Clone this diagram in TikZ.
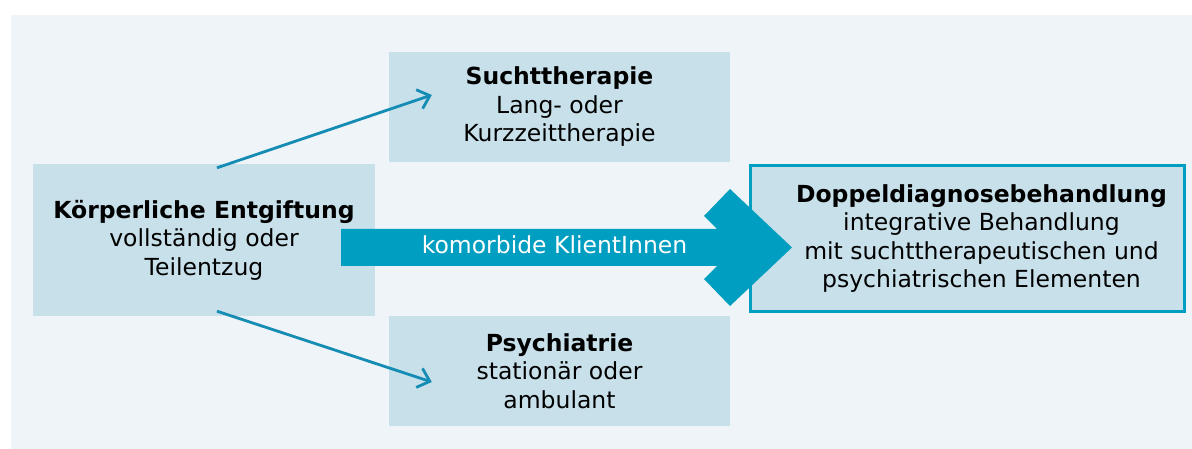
\documentclass[tikz,border=0pt]{standalone}
\usepackage{fontspec}
\setmainfont{DejaVu Sans}
\usetikzlibrary{arrows.meta,calc}

\definecolor{bgblue}{RGB}{239,244,248}
\definecolor{boxblue}{RGB}{200,224,234}
\definecolor{arrowteal}{RGB}{0,158,192}
\definecolor{linkblue}{RGB}{20,140,180}

\begin{document}
\begin{tikzpicture}
                    [x=1pt,y=-1pt,>={Straight Barb[length=11pt,width=20pt]},
                     txt/.style={align=center,font=\fontsize{23.5}{28.5}\selectfont},
                     box/.style={txt,fill=boxblue,inner sep=0pt},
                     link/.style={->,draw=linkblue,line width=2.8pt}]

                \useasboundingbox (0,0) rectangle (1192,449);
                \fill[bgblue] (11,15) rectangle (1192,449);

                \node[box,minimum width=342pt,minimum height=152pt] (entg) at (204,240)
                    {\textbf{Körperliche Entgiftung}\\vollständig oder\\Teilentzug};
                \node[box,minimum width=341pt,minimum height=110pt] (sucht) at (559.5,107)
                    {\textbf{Suchttherapie}\\Lang- oder\\Kurzzeittherapie};
                \node[box,minimum width=341pt,minimum height=110pt] (psych) at (559.5,371)
                    {\textbf{Psychiatrie}\\stationär oder\\ambulant};
                \node[box,draw=arrowteal,line width=3pt,minimum width=434pt,minimum height=146pt] (dd) at (967.5,238.5) {};
                \node[txt] (ddtext) at ($(dd.center)+(14,0)$)
                    {\textbf{Doppeldiagnosebehandlung}\\integrative Behandlung\\mit suchttherapeutischen und\\psychiatrischen Elementen};

                \draw[link] ($(entg.north)+(13,4)$) -- ($(sucht.west)+(43,-12)$);
                \draw[link] ($(entg.south)+(13,-5)$) -- ($(psych.west)+(43,11)$);

                \fill[arrowteal] (341,229) -- (717,229) -- (704,216) -- (730,189) -- (792,247.5)
                    -- (730,306) -- (704,279) -- (717,266) -- (341,266) -- cycle;
                \node[txt,text=white,anchor=base] (klient) at (554.5,254) {komorbide KlientInnen};

                \end{tikzpicture}
\end{document}
